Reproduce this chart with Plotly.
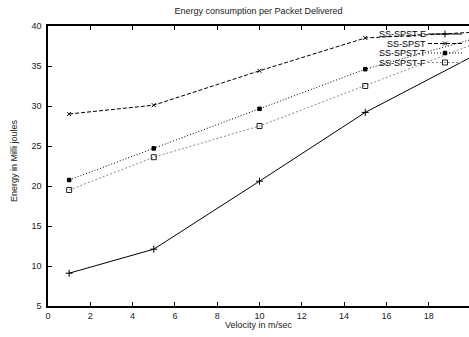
import plotly.graph_objects as go

velocity = [1, 5, 10, 15, 20]
ss_spst_e = [9.1, 12.1, 20.6, 29.2, 36.1]
ss_spst = [29.0, 30.1, 34.4, 38.5, 39.2]
ss_spst_t = [20.75, 24.7, 29.65, 34.6, 38.3]
ss_spst_f = [19.5, 23.6, 27.5, 32.5, 37.6]
series_names = ["SS-SPST-E", "SS-SPST", "SS-SPST-T", "SS-SPST-F"]
x_ticks = [0, 2, 4, 6, 8, 10, 12, 14, 16, 18, 20]
y_ticks = [5, 10, 15, 20, 25, 30, 35, 40]

W, H = 469, 337
L, T, B = 48, 26, 31
FONT = "Liberation Sans, Arial, Helvetica, sans-serif"

styles = [
    dict(color="black", dash="solid", symbol="cross-thin-open", msize=5, mcolor="black"),
    dict(color="black", dash="4px,2px", symbol="x-thin-open", msize=4, mcolor="black"),
    dict(color="black", dash="1px,2px", symbol="square", msize=3.5, mcolor="black"),
    dict(color="#8a8a8a", dash="2px,2px", symbol="square-open", msize=5, mcolor="#222"),
]
data = [ss_spst_e, ss_spst, ss_spst_t, ss_spst_f]

fig = go.Figure()
for name, ys, st in zip(series_names, data, styles):
    fig.add_trace(go.Scatter(
        x=velocity, y=ys, name=name, mode="lines+markers",
        line=dict(color=st["color"], width=1, dash=st["dash"]),
        marker=dict(symbol=st["symbol"], size=st["msize"], color=st["mcolor"],
                    line=dict(color=st["mcolor"], width=1)),
        cliponaxis=False, showlegend=False,
    ))

# custom gnuplot-like legend (text left, sample right) on overlay axes
plot_w = W - L
def px(xp):
    return (xp - L) / plot_w
def py(yp):
    return (H - B - yp) / (H - T - B)

rows_y = [34, 43.5, 53, 62.5]
for name, st, ry in zip(series_names, styles, rows_y):
    fig.add_trace(go.Scatter(
        x=[px(428), px(462)], y=[py(ry), py(ry)], xaxis="x2", yaxis="y2",
        mode="lines", line=dict(color=st["color"], width=1, dash=st["dash"]),
        showlegend=False, hoverinfo="skip"))
    fig.add_trace(go.Scatter(
        x=[px(445)], y=[py(ry)], xaxis="x2", yaxis="y2", mode="markers",
        marker=dict(symbol=st["symbol"], size=st["msize"], color=st["mcolor"],
                    line=dict(color=st["mcolor"], width=1)),
        showlegend=False, hoverinfo="skip"))
    fig.add_annotation(x=px(427), y=py(ry), xref="x2", yref="y2", text=name,
                       showarrow=False, xanchor="right", yanchor="middle",
                       borderpad=0,
                       font=dict(family=FONT, size=9, color="black"))

x_end = 20 * (plot_w / 423.0)

fig.update_layout(
    width=W, height=H,
    margin=dict(l=L, r=0, t=T, b=B),
    paper_bgcolor="white", plot_bgcolor="white",
    font=dict(family=FONT, size=9, color="#222"),
    title=dict(text="Energy consumption per Packet Delivered", x=0.5, xref="paper",
               y=1 - 11 / H, yref="container", yanchor="middle", xanchor="center",
               font=dict(family=FONT, size=9, color="#222")),
    xaxis=dict(range=[0, x_end], tickvals=x_ticks, ticks="inside", ticklen=4,
               tickcolor="black", showgrid=False, zeroline=False,
               showline=True, linecolor="black", linewidth=1.5, mirror="ticks",
               tickfont=dict(size=9, color="#222")),
    yaxis=dict(range=[5, 40], tickvals=y_ticks, ticks="inside", ticklen=4,
               tickcolor="black", showgrid=False, zeroline=False,
               showline=True, linecolor="black", linewidth=1.5, mirror=False,
               tickfont=dict(size=9, color="#222"), ticklabelstandoff=3),
    xaxis2=dict(range=[0, 1], overlaying="x", visible=False, fixedrange=True),
    yaxis2=dict(range=[0, 1], overlaying="y", visible=False, fixedrange=True),
    showlegend=False,
)

fig.add_annotation(text="Velocity in m/sec", x=0.5, y=py(325), xref="paper", yref="paper",
                   showarrow=False, xanchor="center", yanchor="middle",
                   font=dict(family=FONT, size=9, color="#222"))
fig.add_annotation(text="Energy in Milli joules", x=px(14), y=py(161), xref="paper", yref="paper",
                   showarrow=False, xanchor="center", yanchor="middle", textangle=-90,
                   font=dict(family=FONT, size=9, color="#222"))

fig.write_html("out.html")
